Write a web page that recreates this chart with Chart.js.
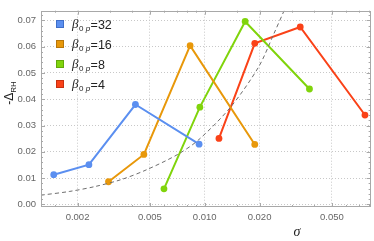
<!DOCTYPE html>
<html>
<head>
<meta charset="utf-8">
<script src="https://cdn.jsdelivr.net/npm/chart.js@4.4.1/dist/chart.umd.min.js"></script>
<style>
html, body { margin: 0; padding: 0; background: #fff; }
</style>
</head>
<body>
<canvas id="chart" width="374" height="241"></canvas>
<script>
// series
const betaValues = ['32', '16', '8', '4'];
const seriesColors = ['#5b8ff0', '#e8980a', '#80d40c', '#fa4218'];
const borderColors = ['#3f6fc8', '#b8760a', '#62a80a', '#c8300f'];

const sigma32 = [0.00148, 0.00231, 0.00416, 0.00931];
const delta32 = [0.0113, 0.0151, 0.0380, 0.0229];
const sigma16 = [0.00296, 0.00463, 0.00831, 0.01883];
const delta16 = [0.0086, 0.0190, 0.0604, 0.0228];
const sigma8 = [0.00597, 0.00940, 0.01667, 0.03761];
const delta8 = [0.0059, 0.0370, 0.0696, 0.0439];
const sigma4 = [0.01197, 0.01883, 0.03346, 0.0759];
const delta4 = [0.0251, 0.0613, 0.0675, 0.0340];

// dashed guide curve
const guideSigma = [0.00126, 0.0018, 0.0025, 0.0035, 0.0048, 0.0071, 0.0093, 0.0139, 0.0198, 0.0240, 0.0274];
const guideDelta = [0.0035, 0.0049, 0.0068, 0.0095, 0.0132, 0.0190, 0.0247, 0.0371, 0.0524, 0.0650, 0.0740];

// tick labels
const xTicks = [0.002, 0.005, 0.01, 0.02, 0.05];
const xMinorTicks = [0.0015, 0.003, 0.004, 0.006, 0.007, 0.008, 0.009, 0.015, 0.03, 0.04, 0.06, 0.07, 0.08];
const yTicks = [0, 0.01, 0.02, 0.03, 0.04, 0.05, 0.06, 0.07];
const yMinorTicks = [];
for (let i = 0; i <= 36; i++) if (i % 5 !== 0) yMinorTicks.push(i * 0.002);

const toPoints = (xs, ys) => xs.map((x, i) => ({ x, y: ys[i] }));
const sigmaSets = [sigma32, sigma16, sigma8, sigma4];
const deltaSets = [delta32, delta16, delta8, delta4];

const datasets = sigmaSets.map((xs, i) => ({
    label: 'β0p=' + betaValues[i],
    data: toPoints(xs, deltaSets[i]),
    borderColor: seriesColors[i],
    backgroundColor: seriesColors[i],
    borderWidth: 2,
    pointRadius: 3.4,
    pointHoverRadius: 3.4,
    pointBorderWidth: 0,
    showLine: true,
    tension: 0
}));

// guide goes first so it sits under the data
datasets.unshift({
    label: 'guide',
    data: toPoints(guideSigma, guideDelta),
    borderColor: '#6e6e6e',
    borderWidth: 1,
    borderDash: [4, 3],
    pointRadius: 0,
    showLine: true,
    tension: 0.3
});

const frameColor = '#a8a8a8';

// frame, inward tick marks, legend and axis titles
const framePlugin = {
    id: 'frame',
    afterDraw(chart) {
        const { ctx, chartArea: a, scales } = chart;
        const xs = scales.x, ys = scales.y;
        ctx.save();
        ctx.strokeStyle = frameColor;
        ctx.lineWidth = 1;
        ctx.strokeRect(Math.round(a.left) + 0.5, Math.round(a.top) + 0.5,
            Math.round(a.right - a.left) - 1, Math.round(a.bottom - a.top) - 1);

        ctx.beginPath();
        const tickX = (v, len) => {
            const px = Math.round(xs.getPixelForValue(v)) + 0.5;
            if (px < a.left || px > a.right) return;
            ctx.moveTo(px, a.bottom); ctx.lineTo(px, a.bottom - len);
            ctx.moveTo(px, a.top); ctx.lineTo(px, a.top + len);
        };
        const tickY = (v, len) => {
            const py = Math.round(ys.getPixelForValue(v)) + 0.5;
            if (py < a.top || py > a.bottom) return;
            ctx.moveTo(a.left, py); ctx.lineTo(a.left + len, py);
            ctx.moveTo(a.right, py); ctx.lineTo(a.right - len, py);
        };
        xTicks.forEach(v => tickX(v, 4));
        xMinorTicks.forEach(v => tickX(v, 2));
        yTicks.forEach(v => tickY(v, 4));
        yMinorTicks.forEach(v => tickY(v, 2));
        ctx.stroke();

        // legend
        betaValues.forEach((b, i) => {
            const cy = 24 + i * 20;
            ctx.fillStyle = seriesColors[i];
            ctx.fillRect(56, cy - 4, 8, 8);
            ctx.strokeStyle = borderColors[i];
            ctx.strokeRect(56.5, cy - 3.5, 7, 7);
            ctx.fillStyle = '#222';
            ctx.textBaseline = 'alphabetic';
            ctx.textAlign = 'left';
            let x = 72;
            ctx.font = 'italic 13px "Liberation Serif", serif';
            ctx.fillText('β', x, cy + 4);
            x += ctx.measureText('β').width + 0.5;
            ctx.font = '8px "Liberation Sans", sans-serif';
            ctx.fillText('0', x, cy + 7);
            x += ctx.measureText('0 ').width;
            ctx.font = 'italic 8px "Liberation Sans", sans-serif';
            ctx.fillText('p', x, cy + 7);
            x += ctx.measureText('p').width + 0.5;
            ctx.font = '12.5px "Liberation Sans", sans-serif';
            ctx.fillText('=' + b, x, cy + 4.5);
        });

        // x title
        ctx.fillStyle = '#222';
        ctx.font = 'italic 14px "Liberation Serif", serif';
        ctx.textAlign = 'center';
        ctx.fillText('σ', 297, 236);

        // y title
        ctx.translate(13, 93);
        ctx.rotate(-Math.PI / 2);
        ctx.textAlign = 'left';
        const main = '-Δ';
        ctx.font = '12px "Liberation Sans", sans-serif';
        const w1 = ctx.measureText(main).width;
        ctx.font = '8px "Liberation Sans", sans-serif';
        const w2 = ctx.measureText('RH').width;
        const tx = -(w1 + w2) / 2;
        ctx.font = '12px "Liberation Sans", sans-serif';
        ctx.fillText(main, tx, 0);
        ctx.font = '8px "Liberation Sans", sans-serif';
        ctx.fillText('RH', tx + w1, 2.5);
        ctx.restore();
    }
};

new Chart(document.getElementById('chart'), {
    type: 'scatter',
    data: { datasets },
    options: {
        responsive: false,
        animation: false,
        layout: { padding: { top: 3, right: 1, left: 0, bottom: 0 } },
        plugins: { legend: { display: false }, tooltip: { enabled: false } },
        scales: {
            x: {
                type: 'logarithmic',
                min: 0.00126,
                max: 0.0815,
                afterBuildTicks: scale => { scale.ticks = xTicks.map(v => ({ value: v })); },
                afterFit: scale => { scale.height = 34; },
                ticks: {
                    callback: v => v.toFixed(3),
                    color: '#666',
                    font: { family: '"Liberation Sans", Arial, sans-serif', size: 9.5 },
                    padding: 5,
                    maxRotation: 0,
                    autoSkip: false
                },
                grid: { color: '#c8c8c8', drawTicks: false, lineWidth: 1 },
                border: { display: false, dash: [1, 2] }
            },
            y: {
                min: -0.001,
                max: 0.0737,
                afterBuildTicks: scale => { scale.ticks = yTicks.map(v => ({ value: v })); },
                afterFit: scale => { scale.width = 41; },
                ticks: {
                    callback: v => v.toFixed(2),
                    color: '#666',
                    font: { family: '"Liberation Sans", Arial, sans-serif', size: 9.5 },
                    padding: 5
                },
                grid: { color: '#c8c8c8', drawTicks: false, lineWidth: 1 },
                border: { display: false, dash: [1, 2] }
            }
        }
    },
    plugins: [framePlugin]
});
</script>
</body>
</html>
